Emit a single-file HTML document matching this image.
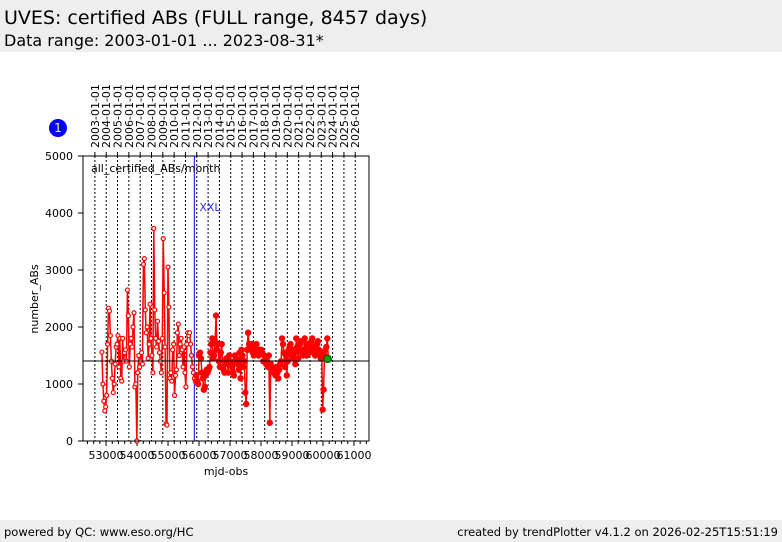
<!DOCTYPE html>
<html><head><meta charset="utf-8"><style>
body{margin:0;width:782px;height:542px;background:#fff;font-family:"DejaVu Sans","Liberation Sans",sans-serif;position:relative;overflow:hidden}
.hdr{position:absolute;left:0;top:0;width:782px;height:52px;background:#eeeeee}
.t1{position:absolute;left:4px;top:7px;font-size:19px;color:#000}
.t2{position:absolute;left:4px;top:31px;font-size:16px;color:#000}
.ftr{position:absolute;left:0;top:520px;width:782px;height:22px;background:#eeeeee;font-size:11.5px}
</style></head><body>
<div class="hdr">
<div class="t1">UVES: certified ABs (FULL range, 8457 days)</div>
<div class="t2">Data range: 2003-01-01 ... 2023-08-31*</div>
</div>
<svg id="chart" width="782" height="542" style="position:absolute;left:0;top:0"></svg>
<div class="ftr">
<span style="position:absolute;left:4px;top:5px">powered by QC: www.eso.org/HC</span>
<span style="position:absolute;right:4px;top:5px">created by trendPlotter v4.1.2 on 2026-02-25T15:51:19</span>
</div>
<script>
const startYear=2003, startMonth=7;
const values=[
1560,1000,700,530,600,
800,1700,2330,2280,1850,1400,1100,850,1000,1350,1650,1700,
1850,1300,1800,1100,1050,1800,1400,1550,1600,1400,2650,2200,
1300,1700,1800,1650,2000,2250,950,1000,0,1200,1500,1300,
1400,1550,1350,3100,3200,2300,1900,2000,1450,1700,2400,1800,
1500,1200,3730,2300,1800,1650,2100,1750,1550,1400,1200,1800,
3550,2600,1650,300,280,3050,2350,1100,1200,1050,1600,1700,
800,1150,1250,1900,2050,1500,1700,1800,1600,1300,1650,1200,
950,1700,1900,1850,1900,1700,1500,1300,1200,1100,1050,1150,
1050,1000,1500,1550,1450,1200,1100,900,950,1150,1250,1200,
1250,1300,1550,1700,1800,1450,1500,1750,2200,1600,1700,1400,
1300,1550,1700,1300,1250,1200,1400,1450,1350,1200,1500,1400,
1350,1300,1200,1150,1500,1450,1400,1350,1250,1550,1100,1600,
1500,1300,1400,850,650,1600,1900,1700,1650,1600,1700,1550,
1500,1650,1600,1700,1550,1500,1600,1600,1600,1550,1400,1500,
1450,1350,1400,1300,1500,320,1350,1300,1250,1200,1250,1150,
1300,1200,1100,1250,1350,1400,1800,1700,1550,1300,1500,1150,
1400,1600,1650,1700,1500,1450,1600,1550,1350,1800,1650,1450,
1600,1700,1750,1550,1500,1600,1800,1600,1500,1700,1650,1550,
1600,1750,1800,1650,1550,1500,1600,1700,1750,1600,1500,1450,
1550,550,900,1500,1600,1650,1800,1450];
const refLevel=1404;
const lastValue=1440, lastMjd=60152;
const xxlMjd=55848;
const xTicks=[53000,54000,55000,56000,57000,58000,59000,60000,61000];
const yTicks=[0,1000,2000,3000,4000,5000];
const years=[2003,2004,2005,2006,2007,2008,2009,2010,2011,2012,2013,2014,2015,2016,2017,2018,2019,2020,2021,2022,2023,2024,2025,2026];
const openUntil=55900;

const L=83,R=369,T=156,B=441,xMin=52256,xMax=61485,yMax=5000;
const X=m=>L+(m-xMin)/(xMax-xMin)*(R-L);
const Y=v=>B-v/yMax*(B-T);
const mjd=(y,mo,d)=>Date.UTC(y,mo,d)/86400000+40587;
const svg=document.getElementById('chart');
const NS='http://www.w3.org/2000/svg';
function mk(tag,attrs,parent){const e=document.createElementNS(NS,tag);for(const k in attrs)e.setAttribute(k,attrs[k]);(parent||svg).appendChild(e);return e;}

years.forEach(y=>{
 const x=X(mjd(y,0,1));
 const g=mk('line',{x1:x,x2:x,y1:T,y2:B,stroke:'#000','stroke-width':1,'stroke-dasharray':'2,2'});
 
 
 const tk=mk('line',{x1:x,x2:x,y1:T-4,y2:T,stroke:'#000'});
 
 
 const t=mk('text',{x:0,y:0,'font-size':11,transform:`translate(${x+4},148) rotate(-90)`});
 t.textContent=y+'-01-01';
 
 
});
for(let m=52400;m<=61400;m+=200){
 const x=X(m);const major=m%1000===0;
 const tk=mk('line',{x1:x,x2:x,y1:B,y2:B+(major?5:3),stroke:'#000'});
 
 
}
xTicks.forEach(m=>{
 const t=mk('text',{x:X(m),y:B+18,'font-size':11,'text-anchor':'middle'});
 t.textContent=m;
 
 
});
yTicks.forEach(v=>{
 const tk=mk('line',{x1:L-5,x2:L,y1:Y(v),y2:Y(v),stroke:'#000'});
 
 
 const t=mk('text',{x:L-10,y:Y(v)+4,'font-size':11,'text-anchor':'end'});
 t.textContent=v;
 
 
});
const xl=mk('line',{x1:X(xxlMjd),x2:X(xxlMjd),y1:T,y2:B,stroke:'#0000ff','stroke-width':1});


const xt=mk('text',{x:X(xxlMjd)+5,y:211,'font-size':11,fill:'#3333ff'});
xt.textContent='XXL';


const pts=values.map((v,i)=>{const yy=startYear+Math.floor((startMonth+i)/12),mo=(startMonth+i)%12;return [mjd(yy,mo,15),v];});
const pl=mk('polyline',{points:pts.map(p=>X(p[0])+','+Y(p[1])).join(' '),fill:'none',stroke:'#ff0000','stroke-width':1.5});


pts.forEach(p=>{
 const open=p[0]<openUntil;
 const c=mk('circle',{cx:X(p[0]),cy:Y(p[1]),r:open?2:2.6,fill:open?'#fff':'#ff0000',stroke:'#ff0000','stroke-width':1.2});
 
 
});
const rl=mk('line',{x1:L,x2:R,y1:Y(refLevel),y2:Y(refLevel),stroke:'#000','stroke-width':1});


const lp=mk('circle',{cx:X(lastMjd),cy:Y(lastValue),r:3.5,fill:'#00aa00',stroke:'#006600','stroke-width':1.5});


const fr=mk('rect',{x:L,y:T,width:R-L,height:B-T,fill:'none',stroke:'#000','stroke-width':1});


const pt=mk('text',{x:91,y:172,'font-size':11});
pt.textContent='all_certified_ABs/month';


const xa=mk('text',{x:226,y:475,'font-size':11,'text-anchor':'middle'});
xa.textContent='mjd-obs';


const ya=mk('text',{x:0,y:0,'font-size':11,'text-anchor':'middle',transform:'translate(38,299) rotate(-90)'});
ya.textContent='number_ABs';


const bc=mk('circle',{cx:58,cy:128,r:9,fill:'#0000ff'});


const bt=mk('text',{x:58,y:132,'font-size':12,'text-anchor':'middle',fill:'#ffff66'});
bt.textContent='1';


</script>
</body></html>
